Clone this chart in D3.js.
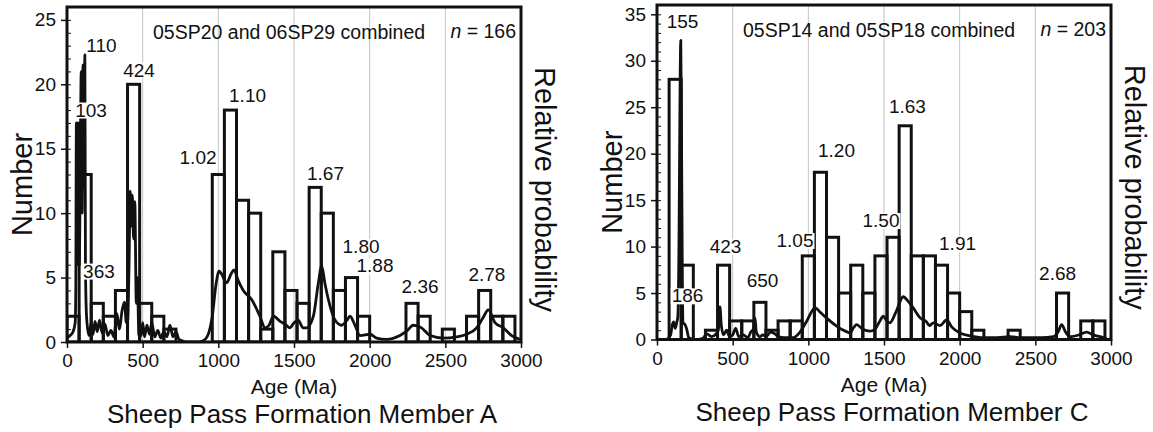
<!DOCTYPE html>
<html>
<head>
<meta charset="utf-8">
<script src="https://cdn.jsdelivr.net/npm/d3@7"></script>
<style>
body { margin: 0; background: #fff; }
text { font-family: "Liberation Sans", Arial, Helvetica, sans-serif; fill: #111; }
</style>
</head>
<body>
<svg id="chart" width="1153" height="432"></svg>
<script>
var binWidth = 80;
var xTicks = [0, 500, 1000, 1500, 2000, 2500, 3000];

// Member A: counts per 80 Ma bin starting at 0 Ma
var countsA = [2, 13, 3, 2, 4, 20, 3, 2, 1, 0, 0, 0, 13, 18, 11, 10, 1, 7, 4, 3,
  12, 10, 4, 5, 2, 0, 0, 0, 3, 2, 0, 1, 0, 2, 4, 2, 2];
// Member C
var countsC = [0, 28, 8, 0, 1, 8, 2, 2, 4, 1, 2, 2, 9, 18, 11, 5, 8, 5, 9, 11,
  23, 9, 9, 8, 5, 3, 1, 0, 0, 1, 0, 0, 0, 5, 0, 2, 2];

// relative probability curves [age, height in axis units]
var curveA = [[0,0.3],[20,0.5],[40,0.8],[54,1.5],[58,4],[62,17],[66,6],[70,17],[74,6],[78,17],[82,6],[88,14],
  [94,21],[100,10],[106,21.5],[112,12],[118,22.3],[122,6],[126,3],[132,1.5],[145,0.5],[160,1.5],[172,0.6],
  [185,1.6],[200,0.8],[215,1.7],[232,0.7],[250,1.4],[270,0.5],[290,0.9],[310,0.4],[330,2.2],[345,1.0],[365,2.5],
  [380,3.1],[392,1.5],[400,1.5],[410,6],[418,11.7],[425,9],[432,11.4],[440,8],[448,10.9],[458,3],[465,5],[475,0.5],
  [490,0.5],[500,1.5],[512,0.4],[528,1.3],[545,0.6],[560,1.5],[580,0.4],[600,0.9],[620,0.3],[640,0.8],[660,0.4],
  [680,1.3],[700,0.4],[720,0.8],[740,0.2],[760,0.1],[800,0],[850,0],[900,0.1],[930,0.5],[960,2],[985,4.5],
  [1005,5.5],[1020,5.3],[1055,4.6],[1085,5.3],[1104,5.6],[1130,4.8],[1165,4],[1220,3.3],[1275,2],[1309,1.1],
  [1335,1.3],[1364,2],[1408,1.6],[1440,1.4],[1474,1.1],[1500,1.5],[1528,1.7],[1560,1.1],[1584,1.1],[1628,2],
  [1660,4.5],[1683,5.9],[1705,4.5],[1727,3.3],[1771,1.7],[1815,1.3],[1850,1.7],[1870,2],[1903,1.3],[1936,0.5],
  [2003,0.6],[2046,0.3],[2112,0.2],[2200,0.5],[2250,0.9],[2288,1.3],[2343,1.1],[2399,0.5],[2487,0.3],[2575,0.4],
  [2641,0.6],[2707,1.1],[2750,1.9],[2784,2.5],[2828,1.5],[2883,1.1],[2938,0.5],[2993,0.2]];
var curveC = [[0,0],[60,0],[90,0.5],[100,1.5],[110,1.9],[120,1.2],[130,1.8],[138,2.5],[146,12],[151,24],[157,32.2],
  [162,22],[167,8],[172,1.8],[185,1.6],[195,1.2],[210,0.2],[250,0],[300,0.1],[330,0.6],[360,0.3],[390,0.6],[405,1],
  [416,3.5],[425,1.5],[440,0.5],[460,1],[480,0.3],[500,0.5],[520,1.2],[540,0.3],[570,0.5],[600,0.2],[620,0.8],
  [640,1.2],[648,2.3],[656,0.8],[680,0.3],[700,0.5],[720,0.3],[750,0.8],[780,0.6],[800,0.3],[840,0.2],[900,0.2],
  [945,0.8],[990,2],[1044,3.4],[1080,2.9],[1121,2.3],[1165,1.7],[1209,1.2],[1245,0.9],[1275,0.7],[1300,1.3],
  [1319,1.6],[1360,1.1],[1407,0.9],[1440,1.1],[1473,2],[1495,2.5],[1515,2.1],[1539,1.8],[1580,3],[1627,4.6],
  [1660,4.1],[1693,3.4],[1740,2.3],[1781,1.9],[1800,1.5],[1826,1.8],[1870,1.5],[1914,2.1],[1950,1.3],[2002,0.7],
  [2068,0.4],[2156,0.2],[2250,0.2],[2333,0.3],[2400,0.2],[2465,0.2],[2540,0.2],[2619,0.3],[2650,0.8],[2674,1.6],
  [2700,0.8],[2729,0.3],[2790,0.5],[2840,0.8],[2880,0.5],[2928,0.3],[2972,0.1]];

// peak age labels [text, age, height]
var peaksA = [["110",228,22.5],["424",476,20.6],["103",159,17.5],["1.10",1193,18.6],["1.02",866,13.8],
  ["363",211,5.0],["1.67",1708,12.6],["1.80",1943,6.9],["1.88",2035,5.4],["2.36",2333,3.8],["2.78",2775,4.7]];
var peaksC = [["155",169,33.5],["186",202,4.0],["423",453,9.3],["650",697,5.65],["1.05",912,9.96],
  ["1.20",1186,19.6],["1.50",1480,12.1],["1.63",1655,24.4],["1.91",1986,9.6],["2.68",2647,6.4]];

var panels = [
  {counts: countsA, curve: curveA, peaks: peaksA, yMax: 26, left: 67, right: 521, top: 7, bottom: 342,
   sample: "05SP20 and 06SP29 combined", n: "166", title: "Sheep Pass Formation Member A"},
  {counts: countsC, curve: curveC, peaks: peaksC, yMax: 36, left: 657, right: 1111, top: 5, bottom: 339.5,
   sample: "05SP14 and 05SP18 combined", n: "203", title: "Sheep Pass Formation Member C"}
];

var svg = d3.select("#chart");

panels.forEach(function(p, pi) {
  var x = d3.scaleLinear().domain([0, 3000]).range([p.left, p.right]);
  var y = d3.scaleLinear().domain([0, p.yMax]).range([p.bottom, p.top]);
  var g = svg.append("g");

  g.append("clipPath").attr("id", "clip" + pi)
    .append("rect")
    .attr("x", p.left).attr("y", p.top)
    .attr("width", p.right - p.left).attr("height", p.bottom - p.top);

  // grid
  g.selectAll(".grid")
    .data(xTicks.slice(1, -1))
    .enter()
    .append("line")
    .attr("x1", d => x(d)).attr("x2", d => x(d))
    .attr("y1", p.bottom).attr("y2", p.top)
    .attr("stroke", "#c4c4c4")
    .attr("stroke-width", 1);

  // histogram
  var bins = p.counts.map(function(c, i) {
    return {x0: i * binWidth, x1: Math.min((i + 1) * binWidth, 3000), n: c};
  }).filter(d => d.n > 0);

  g.append("g").attr("clip-path", "url(#clip" + pi + ")")
    .selectAll("rect")
    .data(bins)
    .enter()
    .append("rect")
    .attr("x", d => x(d.x0))
    .attr("width", d => x(d.x1) - x(d.x0))
    .attr("y", d => y(d.n))
    .attr("height", d => y(0) - y(d.n))
    .attr("fill", "none")
    .attr("stroke", "#111")
    .attr("stroke-width", 3);

  // probability curve
  var line = d3.line()
    .x(d => x(d[0]))
    .y(d => y(d[1]))
    .curve(d3.curveMonotoneX);

  g.append("path")
    .datum(p.curve)
    .attr("clip-path", "url(#clip" + pi + ")")
    .attr("d", line)
    .attr("fill", "none")
    .attr("stroke", "#111")
    .attr("stroke-width", 2.8)
    .attr("stroke-linejoin", "round");

  // peak labels with white knockout
  var lab = g.selectAll(".peak")
    .data(p.peaks)
    .enter()
    .append("g");
  lab.append("rect").attr("fill", "#fff");
  lab.append("text")
    .attr("x", d => x(d[1]))
    .attr("y", d => y(d[2]))
    .attr("text-anchor", "middle")
    .style("font-size", "19px")
    .text(d => d[0]);
  lab.each(function() {
    var t = d3.select(this).select("text").node().getBBox();
    d3.select(this).select("rect")
      .attr("x", t.x - 1).attr("y", t.y + 3)
      .attr("width", t.width + 2).attr("height", t.height - 5);
  });

  // frame
  g.append("rect")
    .attr("x", p.left).attr("y", p.top)
    .attr("width", p.right - p.left).attr("height", p.bottom - p.top)
    .attr("fill", "none")
    .attr("stroke", "#111")
    .attr("stroke-width", 3);

  // axes
  var minor = g.append("g")
    .attr("transform", `translate(${p.left}, 0)`)
    .call(d3.axisLeft(y).tickValues(d3.range(0, p.yMax + 0.01, 1)).tickSize(-4).tickFormat(""));
  minor.select(".domain").remove();
  minor.selectAll("line").attr("stroke", "#111").attr("stroke-width", 1);

  var left = g.append("g")
    .attr("transform", `translate(${p.left}, 0)`)
    .call(d3.axisLeft(y).tickValues(d3.range(0, p.yMax + 0.01, 5)).tickSize(6).tickPadding(5));
  left.select(".domain").remove();
  left.selectAll("line").attr("stroke", "#111").attr("stroke-width", 1.5);
  left.selectAll("text").style("font-size", "19px").attr("fill", "#111")
    .style("font-family", '"Liberation Sans", Arial, sans-serif');

  var bottom = g.append("g")
    .attr("transform", `translate(0, ${p.bottom})`)
    .call(d3.axisBottom(x).tickValues(xTicks).tickSize(6).tickPadding(6).tickFormat(d3.format("d")));
  bottom.select(".domain").remove();
  bottom.selectAll("line").attr("stroke", "#111").attr("stroke-width", 1.5);
  bottom.selectAll("text").style("font-size", "19px").attr("fill", "#111")
    .style("font-family", '"Liberation Sans", Arial, sans-serif');

  // texts inside
  g.append("text")
    .attr("x", p.left + 86).attr("y", p.top + 32)
    .style("font-size", "19.5px")
    .text(p.sample);

  var nt = g.append("text")
    .attr("x", p.right - 5).attr("y", p.top + 31)
    .attr("text-anchor", "end")
    .style("font-size", "19.5px");
  nt.append("tspan").style("font-style", "italic").text("n");
  nt.append("tspan").text(" = " + p.n);

  // axis titles
  var midY = (p.top + p.bottom) / 2;
  g.append("text")
    .attr("transform", `translate(${p.left - 35}, ${midY + 10}) rotate(-90)`)
    .attr("text-anchor", "middle")
    .style("font-size", "29px")
    .text("Number");

  g.append("text")
    .attr("transform", `translate(${p.right + 14}, ${midY + 15}) rotate(90)`)
    .attr("text-anchor", "middle")
    .style("font-size", "29px")
    .text("Relative probability");

  var midX = (p.left + p.right) / 2;
  g.append("text")
    .attr("x", midX).attr("y", p.bottom + 52)
    .attr("text-anchor", "middle")
    .style("font-size", "21px")
    .text("Age (Ma)");

  g.append("text")
    .attr("x", midX + 8).attr("y", p.bottom + 81)
    .attr("text-anchor", "middle")
    .style("font-size", "26px")
    .text(p.title);
});
</script>
</body>
</html>
